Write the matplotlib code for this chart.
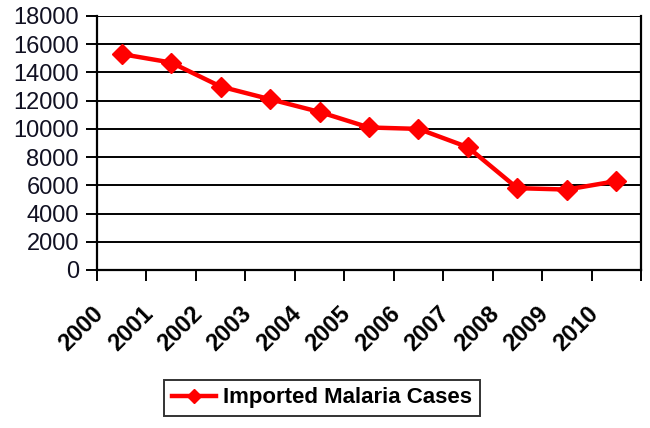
import matplotlib.pyplot as plt
import matplotlib.transforms as mtransforms
import numpy as np

years = ["2000", "2001", "2002", "2003", "2004", "2005",
         "2006", "2007", "2008", "2009", "2010"]
cases = [15300, 14700, 13000, 12100, 11200, 10100,
         10000, 8700, 5800, 5700, 6300]
y_ticks = [0, 2000, 4000, 6000, 8000, 10000, 12000, 14000, 16000, 18000]

plt.rcParams["font.family"] = ["Liberation Sans", "DejaVu Sans"]

fig = plt.figure(figsize=(6.5, 4.28), dpi=100)
ax = fig.add_axes([97 / 650, 1 - 270 / 428, 544 / 650, 254 / 428])

x = np.arange(len(years))
ax.plot(x, cases, color="#ff0000", lw=3.2, marker="D", markersize=10,
        label="Imported Malaria Cases")

ax.set_xlim(-0.5, len(years) - 0.5)
ax.set_ylim(0, 18000)
ax.set_yticks(y_ticks)
ax.set_yticklabels([str(v) for v in y_ticks], fontsize=17, color="#111122")
ax.yaxis.grid(True, color="black", lw=1.4)
ax.set_axisbelow(True)

# category ticks sit between the years
ax.set_xticks(np.arange(len(years) + 1) - 0.5)
ax.set_xticklabels([])
ax.set_xticks(x, minor=True)
ax.set_xticklabels(years, minor=True, rotation=45, ha="right",
                   rotation_mode="anchor", fontsize=17, fontweight="bold")
ax.tick_params(axis="x", which="minor", length=0, pad=18)
ax.tick_params(axis="x", which="major", length=8, width=1.4, direction="out")
ax.tick_params(axis="y", length=8, width=1.4, direction="out", pad=5)

shift = mtransforms.ScaledTranslation(-30 / 100, -7 / 100, fig.dpi_scale_trans)
for lbl in ax.get_xticklabels(minor=True):
    lbl.set_transform(lbl.get_transform() + shift)

for side in ["left", "bottom", "right"]:
    ax.spines[side].set_linewidth(1.6)
ax.spines["top"].set_visible(False)

leg = fig.legend(loc="center", bbox_to_anchor=(322 / 650, 1 - 398 / 428),
                 fancybox=False, edgecolor="black",
                 prop={"weight": "bold", "size": 16}, handlelength=2.0,
                 handletextpad=0.3, borderpad=0.35, markerscale=0.7)
leg.get_frame().set_linewidth(1.4)

fig.savefig("out.png", dpi=100)
